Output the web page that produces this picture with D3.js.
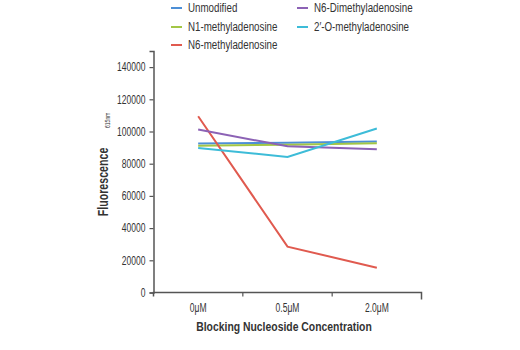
<!DOCTYPE html>
<html>
<head>
<meta charset="utf-8">
<script src="https://cdn.jsdelivr.net/npm/d3@7"></script>
<style>
  body { margin: 0; background: #fff; }
  text { font-family: "Liberation Sans", Arial, sans-serif; fill: #333; }
</style>
</head>
<body>
<script>
const w = 520, h = 350;

const concentrations = ['0μM', '0.5μM', '2.0μM'];
const seriesNames = ['Unmodified', 'N1-methyladenosine', 'N6-methyladenosine', 'N6-Dimethyladenosine', '2\u2032-O-methyladenosine'];
const seriesColors = ['#4d8fd6', '#a3c645', '#e05a4f', '#8c62b5', '#3dbcd8'];
const unmodified = [92500, 93000, 93800];
const n1Methyl = [91100, 91800, 92700];
const n6Methyl = [109500, 28500, 15400];
const n6Dimethyl = [101200, 90800, 89000];
const oMethyl = [89800, 84200, 101900];
const yTicks = [0, 20000, 40000, 60000, 80000, 100000, 120000, 140000];

const seriesValues = [unmodified, n1Methyl, n6Methyl, n6Dimethyl, oMethyl];

// squeeze text horizontally, the reference uses a narrow face
const narrow = (sel, k) => sel.each(function() {
  const len = this.getComputedTextLength();
  d3.select(this).attr('textLength', len * k).attr('lengthAdjust', 'spacingAndGlyphs');
});

const svg = d3.select('body').append('svg')
  .attr('width', w)
  .attr('height', h);

const x = d3.scaleBand()
  .domain(concentrations)
  .range([153.5, 421.5]);

const y = d3.scaleLinear()
  .domain([0, 150000])
  .range([292.5, 51]);

// y axis
const yAxis = svg.append('g')
  .attr('transform', 'translate(153.5,0)')
  .call(d3.axisLeft(y).tickValues(yTicks).tickFormat(d3.format('d')).tickSize(4).tickPadding(4));

// x axis
const xAxis = svg.append('g')
  .attr('transform', 'translate(0,292.5)')
  .call(d3.axisBottom(x).tickSize(0).tickPadding(11));

// band boundary ticks
xAxis.selectAll('line.sep')
  .data(x.domain().slice(1))
  .enter().append('line')
  .attr('class', 'sep')
  .attr('x1', d => x(d))
  .attr('x2', d => x(d))
  .attr('y1', 0)
  .attr('y2', 4);

xAxis.select('.domain').attr('d', 'M153.5,4V0H421.5V7');

[yAxis, xAxis].forEach(g => {
  g.selectAll('.domain').attr('stroke', '#555').attr('stroke-width', 1.5);
  g.selectAll('line').attr('stroke', '#555').attr('stroke-width', 1.2);
  g.selectAll('text').style('font-size', '12px').attr('fill', '#333').call(narrow, 0.71);
});

// lines
const line = d3.line()
  .x((d, i) => x(concentrations[i]) + x.bandwidth() / 2)
  .y(d => y(d));

svg.selectAll('path.series')
  .data(seriesValues)
  .enter().append('path')
  .attr('class', 'series')
  .attr('d', line)
  .attr('fill', 'none')
  .attr('stroke', (d, i) => seriesColors[i])
  .attr('stroke-width', 2);

// axis titles
svg.append('text')
  .attr('x', 284)
  .attr('y', 331)
  .attr('text-anchor', 'middle')
  .style('font-size', '13.5px')
  .style('font-weight', 'bold')
  .text('Blocking Nucleoside Concentration')
  .call(narrow, 0.77);

const yt = svg.append('g')
  .attr('transform', 'translate(108,182) rotate(-90)');
yt.append('text')
  .attr('text-anchor', 'middle')
  .style('font-size', '14px')
  .style('font-weight', 'bold')
  .text('Fluorescence')
  .call(narrow, 0.76);
yt.append('text')
  .attr('x', 54)
  .attr('y', 2)
  .style('font-size', '7px')
  .text('615nm')
  .call(narrow, 0.72);

// legend
const legendPos = [[171, 8], [171, 27], [171, 45], [297, 8], [297, 27]];
const legend = svg.selectAll('g.legend')
  .data(seriesNames)
  .enter().append('g')
  .attr('class', 'legend')
  .attr('transform', (d, i) => `translate(${legendPos[i][0]},${legendPos[i][1]})`);

legend.append('line')
  .attr('x1', 0).attr('x2', 11)
  .attr('stroke', (d, i) => seriesColors[i])
  .attr('stroke-width', 2);

legend.append('text')
  .attr('x', 17)
  .attr('dy', '0.35em')
  .style('font-size', '12.5px')
  .text(d => d)
  .call(narrow, 0.78);
</script>
</body>
</html>
